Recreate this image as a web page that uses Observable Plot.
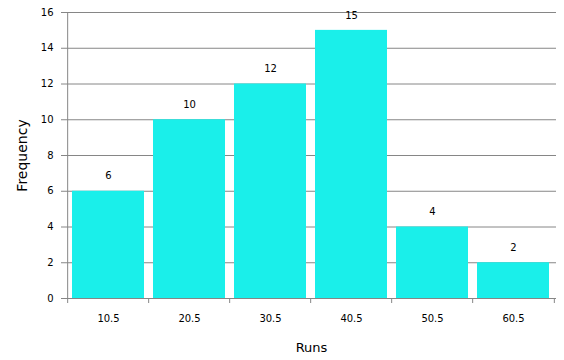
<!DOCTYPE html>
<html>
<head>
<meta charset="utf-8">
<script src="https://cdn.jsdelivr.net/npm/d3@7"></script>
<script src="https://cdn.jsdelivr.net/npm/@observablehq/plot@0.6"></script>
<style>
  html, body { margin: 0; padding: 0; background: #fff; }
  #chart svg { display: block; }
</style>
</head>
<body>
<div id="chart"></div>
<script>
const categories = ["10.5", "20.5", "30.5", "40.5", "50.5", "60.5"];
const frequencies = [6, 10, 12, 15, 4, 2];
const yTicks = [0, 2, 4, 6, 8, 10, 12, 14, 16];

const data = categories.map((c, i) => ({runs: c, freq: frequencies[i]}));

const W = 564, H = 360;
const mL = 66, mR = 8, mT = 12, mB = 62;
const pInner = 0.11, pOuter = pInner / 2;
const step = (W - mL - mR) / (categories.length - pInner + 2 * pOuter);
const grid = "#868686";
const barColor = "#1aefea";
const font = "DejaVu Sans, Verdana, sans-serif";

const chart = Plot.plot({
  width: W,
  height: H,
  marginLeft: mL,
  marginRight: mR,
  marginTop: mT,
  marginBottom: mB,
  style: {fontFamily: font, fontSize: "10px", color: "#000", background: "#fff"},
  x: {type: "band", domain: categories, paddingInner: pInner, paddingOuter: pOuter, label: null},
  y: {domain: [0, 16], label: null},
  marks: [
    Plot.gridY(yTicks, {stroke: grid, strokeOpacity: 1}),
    Plot.barY(data, {x: "runs", y: "freq", fill: barColor}),
    Plot.ruleY([0], {stroke: grid}),
    // y axis line at left boundary
    Plot.ruleX([categories[0]], {x: d => d, dx: -step / 2, stroke: grid}),
    // category boundary ticks
    Plot.ruleX(categories, {x: d => d, y1: 0, y2: 0, insetBottom: -5, dx: -step / 2, stroke: grid}),
    Plot.ruleX([categories[categories.length - 1]], {x: d => d, y1: 0, y2: 0, insetBottom: -5, dx: step / 2, stroke: grid}),
    Plot.axisY({ticks: yTicks, tickSize: 5, tickPadding: 8, stroke: grid, fill: "#000", label: null}),
    Plot.axisX({tickSize: 0, tickPadding: 16, fill: "#000", label: null}),
    Plot.text(data, {x: "runs", y: "freq", text: d => String(d.freq), dy: -15, fill: "#000", fontSize: 10}),
    Plot.text(["Frequency"], {frameAnchor: "left", text: d => d, dx: -44, rotate: -90, textAnchor: "middle", lineAnchor: "middle", fontSize: 14, fill: "#000"}),
    Plot.text(["Runs"], {frameAnchor: "bottom", text: d => d, dy: 49, textAnchor: "middle", lineAnchor: "middle", fontSize: 13, fill: "#000"})
  ]
});
document.getElementById("chart").appendChild(chart);
</script>
</body>
</html>
